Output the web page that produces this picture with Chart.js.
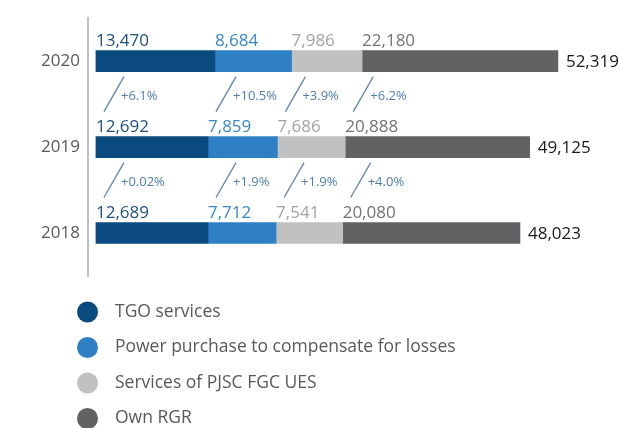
<!DOCTYPE html>
<html lang="en">
<head>
  <meta charset="UTF-8" />
  <title>Cost structure</title>
  <script src="https://cdn.jsdelivr.net/npm/chart.js"></script>
  <style>
    html, body { margin: 0; padding: 0; background: #fff; }
  </style>
</head>
<body>
  <canvas id="costChart" width="620" height="428"></canvas>

  <script>
    // data
    const years = ["2020", "2019", "2018"];
    const seriesNames = ["TGO services", "Power purchase to compensate for losses", "Services of PJSC FGC UES", "Own RGR"];
    const tgoServices = [13470, 12692, 12689];
    const powerPurchase = [8684, 7859, 7712];
    const fgcServices = [7986, 7686, 7541];
    const ownRgr = [22180, 20888, 20080];
    const totals = [52319, 49125, 48023];
    const change2019to2020 = ["+6.1%", "+10.5%", "+3.9%", "+6.2%"];
    const change2018to2019 = ["+0.02%", "+1.9%", "+1.9%", "+4.0%"];

    const barColors = ["#0b4a7e", "#2e7fc3", "#c0c1c1", "#616264"];
    const valueColors = ["#1e4f7d", "#3a86c8", "#a3a3a3", "#737373"];
    const FONT = "'Open Sans', sans-serif";

    const fmt = v => v.toLocaleString("en-US");

    const annotations = {
      id: "annotations",
      afterDatasetsDraw(chart) {
        const ctx = chart.ctx;
        const metas = chart.data.datasets.map((d, i) => chart.getDatasetMeta(i));
        ctx.save();

        // segment values above each bar
        ctx.font = "17px " + FONT;
        ctx.textBaseline = "alphabetic";
        ctx.textAlign = "left";
        years.forEach((yr, i) => {
          metas.forEach((meta, d) => {
            const el = meta.data[i];
            ctx.fillStyle = valueColors[d];
            ctx.fillText(fmt(chart.data.datasets[d].data[i]), el.base, el.y - el.height / 2 - 5);
          });
          // total at bar end
          const last = metas[metas.length - 1].data[i];
          ctx.fillStyle = "#1a1a1a";
          ctx.textBaseline = "middle";
          ctx.fillText(fmt(totals[i]), last.x + 8, last.y + 1);
          ctx.textBaseline = "alphabetic";
        });

        // growth markers between bars
        const gaps = [change2019to2020, change2018to2019];
        gaps.forEach((changes, g) => {
          changes.forEach((txt, d) => {
            const upper = metas[d].data[g];
            const lower = metas[d].data[g + 1];
            const yTop = upper.y + upper.height / 2 + 5;
            const yBot = lower.y - lower.height / 2 - 25;
            const xBot = lower.base + 8;
            const xTop = xBot + 20;
            ctx.strokeStyle = "#5b86b5";
            ctx.lineWidth = 1.3;
            ctx.beginPath();
            ctx.moveTo(xBot, yBot);
            ctx.lineTo(xTop, yTop);
            ctx.stroke();
            ctx.font = "13px " + FONT;
            ctx.fillStyle = "#4f7fb0";
            ctx.textBaseline = "middle";
            ctx.fillText(txt, xTop - 3, (yTop + yBot) / 2 + 2);
          });
        });

        // legend
        ctx.font = "17.5px " + FONT;
        ctx.textBaseline = "middle";
        seriesNames.forEach((name, i) => {
          const cy = 312 + i * 35.5;
          ctx.fillStyle = barColors[i];
          ctx.beginPath();
          ctx.arc(87.5, cy, 10.5, 0, Math.PI * 2);
          ctx.fill();
          ctx.fillStyle = "#595959";
          ctx.fillText(name, 115, cy);
        });
        ctx.restore();
      }
    };

    const chart = new Chart(document.getElementById("costChart"), {
      type: "bar",
      data: {
        labels: years,
        datasets: [tgoServices, powerPurchase, fgcServices, ownRgr].map((vals, i) => ({
          label: seriesNames[i],
          data: vals,
          backgroundColor: barColors[i],
          barThickness: 21
        }))
      },
      options: {
        indexAxis: "y",
        responsive: false,
        animation: false,
        devicePixelRatio: 1,
        layout: { padding: { top: 16, bottom: 152, left: 0, right: 0 } },
        plugins: { legend: { display: false }, tooltip: { enabled: false } },
        scales: {
          x: { stacked: true, display: false, min: -900, max: 59350 },
          y: {
            stacked: true,
            grid: { drawOnChartArea: false, drawTicks: false },
            border: { display: true, color: "#bfbfbf", width: 2 },
            ticks: { color: "#595959", font: { family: FONT, size: 17 }, padding: 8 },
            afterFit(scale) { scale.width = 88; }
          }
        }
      },
      plugins: [annotations]
    });
  </script>
</body>
</html>
